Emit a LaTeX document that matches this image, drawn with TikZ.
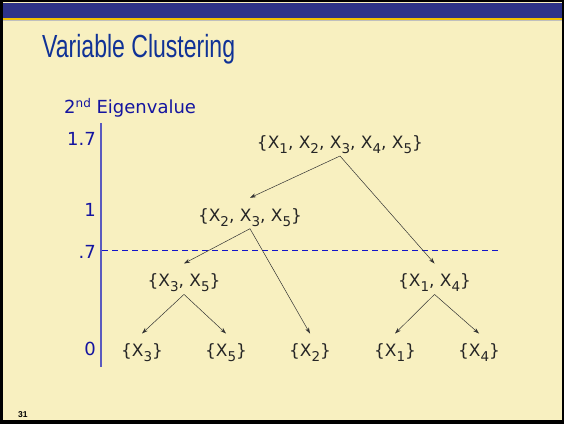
\documentclass[tikz,border=0pt]{standalone}
\usepackage{fontspec}
\setmainfont{DejaVu Sans}
\newfontfamily\titlefont[FakeStretch=0.72]{Liberation Sans}
\newfontfamily\pagefont{Liberation Sans}
\usepackage{xcolor}
\usepackage{tikz}
\usetikzlibrary{arrows.meta,positioning,calc}

\definecolor{slidecream}{RGB}{248,240,192}
\definecolor{barblue}{RGB}{46,51,136}
\definecolor{bargold}{RGB}{240,192,0}
\definecolor{titleblue}{RGB}{16,50,150}
\definecolor{axisblue}{RGB}{20,20,160}
\definecolor{axisline}{RGB}{90,90,190}
\definecolor{cutblue}{RGB}{20,20,200}

\newcommand{\Xsub}[1]{X\raisebox{-5pt}{\fontsize{13.5}{13.5}\selectfont #1}}

\begin{document}
\begin{tikzpicture}[
    x=1pt, y=-1pt,
    cluster/.style={anchor=base, inner sep=0pt, text height=23pt, text depth=7.5pt, font=\fontsize{17}{17}\selectfont, text=black!85},
    axislabel/.style={anchor=base east, inner sep=0pt, font=\fontsize{18}{18}\selectfont, text=axisblue},
    split/.style={-{Stealth[length=6pt,width=4pt]}, line width=0.5pt, black!80}
]
\useasboundingbox (0,0) rectangle (564,424);

% slide frame
\fill[black] (0,0) rectangle (564,424);
\fill[slidecream] (3,2) rectangle (562,420);
\fill[barblue] (3,3) rectangle (562,17.5);
\fill[bargold] (3,17.5) rectangle (562,20);
\fill[black!25] (3,20) rectangle (562,21);

\node[anchor=base west, inner sep=0pt, font=\titlefont\fontsize{32}{32}\selectfont, text=titleblue] (title) at (42,57) {Variable Clustering};
\node[anchor=base west, inner sep=0pt, font=\pagefont\bfseries\fontsize{8.5}{8.5}\selectfont] (page) at (18,417) {31};

% eigenvalue axis
\node[anchor=base west, inner sep=0pt, font=\fontsize{18}{18}\selectfont, text=axisblue] (ylabel) at (64,113) {2\raisebox{6pt}{\fontsize{12}{12}\selectfont nd} Eigenvalue};
\draw[axisline, line width=2pt] (100.7,123) -- (100.7,367);
\node[axislabel] (v17) at (96,145) {1.7};
\node[axislabel] (v1) at (96,216) {1};
\node[axislabel] (v07) at (96,258) {.7};
\node[axislabel] (v0) at (96,355) {0};
\draw[cutblue, line width=1pt, dash pattern=on 6pt off 4pt] (102,250.7) -- (500,250.7);

% clusters
\node[cluster] (all) at (340,148.3) {\{\Xsub{1}, \Xsub{2}, \Xsub{3}, \Xsub{4}, \Xsub{5}\}};
\node[cluster] (c235) at (250,221) {\{\Xsub{2}, \Xsub{3}, \Xsub{5}\}};
\node[cluster] (c35) at (184,286.7) {\{\Xsub{3}, \Xsub{5}\}};
\node[cluster] (c14) at (434.5,286.7) {\{\Xsub{1}, \Xsub{4}\}};
\node[cluster] (c3) at (142,356.7) {\{\Xsub{3}\}};
\node[cluster] (c5) at (226,356.7) {\{\Xsub{5}\}};
\node[cluster] (c2) at (310,356.7) {\{\Xsub{2}\}};
\node[cluster] (c1) at (395,356.7) {\{\Xsub{1}\}};
\node[cluster] (c4) at (479,356.7) {\{\Xsub{4}\}};

\draw[split] (all.south) -- (c235.north);
\draw[split] (all.south) -- (c14.north);
\draw[split] (c235.south) -- (c35.north);
\draw[split] (c235.south) -- (c2.north);
\draw[split] (c35.south) -- (c3.north);
\draw[split] (c35.south) -- (c5.north);
\draw[split] (c14.south) -- (c1.north);
\draw[split] (c14.south) -- (c4.north);

\end{tikzpicture}
\end{document}
